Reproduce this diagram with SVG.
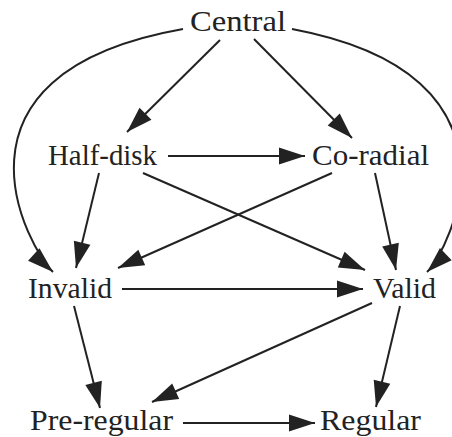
<svg xmlns="http://www.w3.org/2000/svg" width="452" height="437" viewBox="0 0 452 437">
<style>
text{font-family:'Liberation Serif','Times New Roman',serif;font-size:29px;fill:#222}
.e{fill:none;stroke:#222;stroke-width:2;marker-end:url(#ah)}
</style>
<defs>
<marker id="ah" markerUnits="userSpaceOnUse" markerWidth="26" markerHeight="17" refX="26" refY="8.5" orient="auto" overflow="visible">
<path d="M0,0 L26,8.5 L0,17 z" fill="#222"/>
</marker>
</defs>
<rect width="452" height="437" fill="#fff"/>
<g id="connectors">
<path class="e" d="M220,40 L127,132"/>
<path class="e" d="M254,39 L352,138"/>
<path class="e" d="M168,156 L305,156"/>
<path class="e" d="M99,173 L76,268"/>
<path class="e" d="M143,173 L365,270"/>
<path class="e" d="M332,173 L118,268"/>
<path class="e" d="M375,173 L396,270"/>
<path class="e" d="M122,289 L363,289"/>
<path class="e" d="M74,306 L100,408"/>
<path class="e" d="M372,303 L152,402"/>
<path class="e" d="M400,306 L376,407"/>
<path class="e" d="M183,423 L315,423"/>
<path class="e" d="M183,29 C-72,74 31,252 53,272"/>
<path class="e" d="M292,29 C538,75 449,251 427,272"/>
</g>
<g id="central"><text x="190" y="31" textLength="96" lengthAdjust="spacingAndGlyphs">Central</text></g>
<g id="half-disk"><text x="48" y="165" textLength="109" lengthAdjust="spacingAndGlyphs">Half-disk</text></g>
<g id="co-radial"><text x="312" y="165" textLength="117" lengthAdjust="spacingAndGlyphs">Co-radial</text></g>
<g id="invalid"><text x="28" y="298" textLength="84" lengthAdjust="spacingAndGlyphs">Invalid</text></g>
<g id="valid"><text x="373" y="298" textLength="63" lengthAdjust="spacingAndGlyphs">Valid</text></g>
<g id="pre-regular"><text x="30" y="430" textLength="143" lengthAdjust="spacingAndGlyphs">Pre-regular</text></g>
<g id="regular"><text x="320" y="430" textLength="101" lengthAdjust="spacingAndGlyphs">Regular</text></g>
</svg>
